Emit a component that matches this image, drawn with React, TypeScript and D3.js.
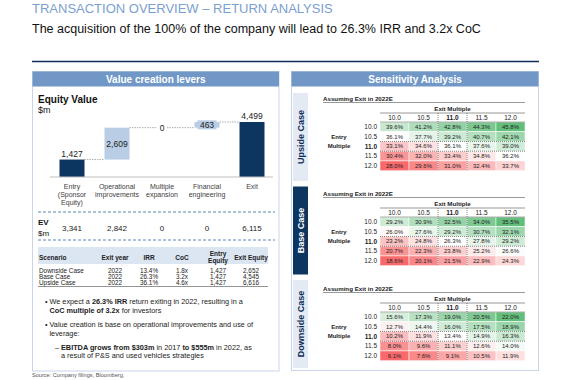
import React from "react";
import * as d3 from "d3";

const FONT = "'Liberation Sans', Arial, Helvetica, sans-serif";

// ---- Waterfall data ----
const leverKeys = ["entry", "ops", "multiple", "financial", "exit"];
const leverLabels = [["Entry", "(Sponsor", "Equity)"], ["Operational", "improvements"], ["Multiple", "expansion"], ["Financial", "engineering"], ["Exit"]];
const equityValues = [1427, 2609, 0, 463, 4499];
const isTotal = [true, false, false, false, true];
const evValues = [3341, 2842, 0, 0, 6115];

// ---- Scenario table ----
const scenarioNames = ["Downside Case", "Base Case", "Upside Case"];
const exitYears = ["2022", "2022", "2022"];
const irrs = ["13.4%", "26.3%", "36.1%"];
const cocs = ["1.8x", "3.2x", "4.6x"];
const entryEquity = [1427, 1427, 1427];
const exitEquity = [2652, 4545, 6616];

// ---- Sensitivity ----
const exitMultiples = ["10.0", "10.5", "11.0", "11.5", "12.0"];
const entryMultiples = ["10.0", "10.5", "11.0", "11.5", "12.0"];
const caseNames = ["Upside Case", "Base Case", "Downside Case"];
const upsideIrr = [
  [39.6, 41.2, 42.8, 44.3, 45.8],
  [36.1, 37.7, 39.2, 40.7, 42.1],
  [33.1, 34.6, 36.1, 37.6, 39.0],
  [30.4, 32.0, 33.4, 34.8, 36.2],
  [28.0, 29.6, 31.0, 32.4, 33.7],
];
const baseIrr = [
  [29.2, 30.9, 32.5, 34.0, 35.5],
  [26.0, 27.6, 29.2, 30.7, 32.1],
  [23.2, 24.8, 26.3, 27.8, 29.2],
  [20.7, 22.3, 23.8, 25.2, 26.6],
  [18.6, 20.1, 21.5, 22.9, 24.3],
];
const downsideIrr = [
  [15.6, 17.3, 19.0, 20.5, 22.0],
  [12.7, 14.4, 16.0, 17.5, 18.9],
  [10.2, 11.9, 13.4, 14.9, 16.3],
  [8.0, 9.6, 11.1, 12.6, 14.0],
  [6.1, 7.6, 9.1, 10.5, 11.9],
];
const caseData = [upsideIrr, baseIrr, downsideIrr];

const NAVY = "#0c365f";
const LIGHTBAR = "#b9cde5";
const HEADER = "#7097c6";
const BORDER = "#c8d5e8";
const fmt = d3.format(",");

function Waterfall() {
  const x = d3.scalePoint<string>().domain(leverKeys).range([72, 252]);
  const y = d3.scaleLinear().domain([0, 4499]).range([177, 122]);
  const bw = 25;
  let cum = 0;
  const bars = equityValues.map((v, i) => {
    let a: number, b: number;
    if (isTotal[i]) { a = 0; b = v; cum = v; } else { a = cum; b = cum + v; cum = b; }
    return { key: leverKeys[i], v, a, b, total: isTotal[i] };
  });
  return (
    <g>
      {bars.map((d, i) => {
        const cx = x(d.key)!;
        const top = y(d.b), bot = y(d.a);
        const els: any[] = [];
        if (i < bars.length - 1) {
          const nx = x(bars[i + 1].key)!;
          els.push(<line key="c" x1={cx + bw / 2} x2={nx - bw / 2} y1={top} y2={top} stroke="#9a9a9a" strokeWidth={0.8} strokeDasharray="1.5,1" />);
        }
        if (d.v === 0) {
          els.push(<line key="z" x1={cx - bw / 2} x2={cx + bw / 2} y1={top} y2={top} stroke="#9a9a9a" strokeWidth={0.8} strokeDasharray="1.5,1" />);
        } else {
          els.push(<rect key="r" x={cx - bw / 2} y={top} width={bw} height={bot - top} fill={d.total ? NAVY : LIGHTBAR} />);
        }
        const label = fmt(d.v);
        if (d.total) {
          els.push(<text key="t" x={cx} y={top - 3} textAnchor="middle" fontSize={8.5} fill="#222">{label}</text>);
        } else if (d.v === 0) {
          els.push(<rect key="bg" x={cx - 5} y={top - 4.5} width={10} height={9} fill="#fff" />);
          els.push(<text key="t" x={cx} y={top + 3} textAnchor="middle" fontSize={8.5} fill="#222">{label}</text>);
        } else if (bot - top > 12) {
          els.push(<text key="t" x={cx} y={(top + bot) / 2 + 3} textAnchor="middle" fontSize={8.5} fill="#222">{label}</text>);
        } else {
          const m = (top + bot) / 2;
          els.push(<rect key="bg" x={cx - 9.5} y={m - 4.5} width={19} height={9} fill={LIGHTBAR} />);
          els.push(<text key="t" x={cx} y={m + 3} textAnchor="middle" fontSize={8.5} fill="#222">{label}</text>);
        }
        return <g key={d.key}>{els}</g>;
      })}
      <line x1={50} x2={273} y1={177} y2={177} stroke="#bfbfbf" strokeWidth={1.2} />
      {leverLabels.map((lines, i) => (
        <text key={i} x={x(leverKeys[i])!} y={188.5} textAnchor="middle" fontSize={7} fill="#404040">
          {lines.map((l, j) => (
            <tspan key={j} x={x(leverKeys[i])!} dy={j === 0 ? 0 : 8.3}>{l}</tspan>
          ))}
        </text>
      ))}
      <line x1={38} x2={275} y1={212} y2={212} stroke="#5b86bd" strokeWidth={1} strokeDasharray="3,2" />
      <text x={38} y={225} fontSize={8} fontWeight="bold" fill="#111">EV</text>
      <text x={38} y={236} fontSize={8} fill="#111">$m</text>
      {evValues.map((v, i) => (
        <text key={i} x={x(leverKeys[i])!} y={231} textAnchor="middle" fontSize={8} fill="#222">{fmt(v)}</text>
      ))}
      <line x1={38} x2={275} y1={240} y2={240} stroke="#5b86bd" strokeWidth={1} strokeDasharray="3,2" />
    </g>
  );
}

function ScenarioTable() {
  const cols = [115, 149, 182, 218, 251];
  const rowY = d3.scalePoint<string>().domain(scenarioNames).range([273, 284.5]);
  const hs = 6.5;
  return (
    <g fontSize={6.4} fill="#222">
      <rect x={38} y={247} width={230} height={17} fill="#dce6f2" />
      <text x={39} y={259.5} fontSize={hs} fontWeight="bold">Scenario</text>
      <text x={cols[0]} y={259.5} fontSize={hs} fontWeight="bold" textAnchor="middle">Exit year</text>
      <text x={cols[1]} y={259.5} fontSize={hs} fontWeight="bold" textAnchor="middle">IRR</text>
      <text x={cols[2]} y={259.5} fontSize={hs} fontWeight="bold" textAnchor="middle">CoC</text>
      <text x={cols[3]} y={255.5} fontSize={hs} fontWeight="bold" textAnchor="middle">Entry</text>
      <text x={cols[3]} y={263} fontSize={hs} fontWeight="bold" textAnchor="middle">Equity</text>
      <text x={cols[4]} y={259.5} fontSize={hs} fontWeight="bold" textAnchor="middle">Exit Equity</text>
      {scenarioNames.map((s, i) => {
        const yy = rowY(s)!;
        return (
          <g key={s}>
            <text x={39} y={yy}>{s}</text>
            <text x={cols[0]} y={yy} textAnchor="middle">{exitYears[i]}</text>
            <text x={cols[1]} y={yy} textAnchor="middle">{irrs[i]}</text>
            <text x={cols[2]} y={yy} textAnchor="middle">{cocs[i]}</text>
            <text x={cols[3]} y={yy} textAnchor="middle">{fmt(entryEquity[i])}</text>
            <text x={cols[4]} y={yy} textAnchor="middle">{fmt(exitEquity[i])}</text>
          </g>
        );
      })}
      <line x1={38} x2={268} y1={286.5} y2={286.5} stroke="#666" strokeWidth={0.7} />
    </g>
  );
}

function Bullets() {
  const fs = 7.3;
  return (
    <g fontSize={fs} fill="#222">
      <text x={45} y={304}>•</text>
      <text x={49.5} y={304}>We expect a <tspan fontWeight="bold">26.3% IRR</tspan> return exiting in 2022, resulting in a</text>
      <text x={49.5} y={313}><tspan fontWeight="bold">CoC multiple of 3.2x</tspan> for investors</text>
      <text x={45} y={327}>•</text>
      <text x={49.5} y={327}>Value creation is base on operational improvements and use of</text>
      <text x={49.5} y={335.5}>leverage:</text>
      <text x={55} y={349.5}>–</text>
      <text x={61} y={349.5}><tspan fontWeight="bold">EBITDA grows from $303m</tspan> in 2017 <tspan fontWeight="bold">to $555m</tspan> in 2022, as</text>
      <text x={61} y={358}>a result of P&amp;S and used vehicles strategies</text>
    </g>
  );
}

function SensBlock({ data, dy }: { data: number[][]; dy: number }) {
  const xs = d3.scaleBand<string>().domain(exitMultiples).range([380, 525]);
  const ys = d3.scaleBand<string>().domain(entryMultiples).range([122 + dy, 170.7 + dy]);
  const flat = data.flat();
  const color = d3.scaleLinear<string>()
    .domain([d3.min(flat)!, d3.median(flat)!, d3.max(flat)!])
    .range(["#F8696B", "#FFFFFF", "#63BE7B"]);
  const bw = xs.bandwidth(), bh = ys.bandwidth();
  const hiCol = "11.0", hiRow = "11.0";
  return (
    <g fill="#222">
      <text x={323} y={100.5 + dy} fontSize={6.2} fontWeight="bold">Assuming Exit in 2022E</text>
      <line x1={323} x2={525} y1={102.5 + dy} y2={102.5 + dy} stroke="#8c8c8c" strokeWidth={0.9} />
      <text x={452.5} y={111 + dy} fontSize={6.2} fontWeight="bold" textAnchor="middle">Exit Multiple</text>
      <line x1={380} x2={525} y1={113 + dy} y2={113 + dy} stroke="#8c8c8c" strokeWidth={0.9} />
      {exitMultiples.map((m) => (
        <text key={m} x={xs(m)! + bw / 2} y={120.3 + dy} fontSize={6.5} textAnchor="middle" fontWeight={m === hiCol ? "bold" : "normal"}>{m}</text>
      ))}
      {data.map((row, r) =>
        row.map((v, c) => (
          <g key={`${r}-${c}`}>
            <rect x={xs(exitMultiples[c])!} y={ys(entryMultiples[r])!} width={bw} height={bh} fill={color(v)} stroke="#fff" strokeWidth={0.5} />
            <text x={xs(exitMultiples[c])! + bw / 2} y={ys(entryMultiples[r])! + bh / 2 + 2.1} fontSize={6} textAnchor="middle">{v.toFixed(1) + "%"}</text>
          </g>
        ))
      )}
      <line x1={380} x2={525} y1={122 + dy} y2={122 + dy} stroke="#8c8c8c" strokeWidth={0.7} />
      {entryMultiples.map((m) => (
        <text key={m} x={377} y={ys(m)! + bh / 2 + 2.3} fontSize={6.5} textAnchor="end" fontWeight={m === hiRow ? "bold" : "normal"}>{m}</text>
      ))}
      <text x={339} y={138.5 + dy} fontSize={6} fontWeight="bold" textAnchor="middle">Entry</text>
      <text x={339} y={148 + dy} fontSize={6} fontWeight="bold" textAnchor="middle">Multiple</text>
      {/* highlight dotted box */}
      <line x1={xs(hiCol)!} x2={xs(hiCol)!} y1={113 + dy} y2={170.7 + dy} stroke="#555" strokeWidth={0.7} strokeDasharray="1,1" />
      <line x1={xs(hiCol)! + bw} x2={xs(hiCol)! + bw} y1={113 + dy} y2={170.7 + dy} stroke="#555" strokeWidth={0.7} strokeDasharray="1,1" />
      <line x1={380} x2={525} y1={ys(hiRow)!} y2={ys(hiRow)!} stroke="#555" strokeWidth={0.7} strokeDasharray="1,1" />
      <line x1={380} x2={525} y1={ys(hiRow)! + bh} y2={ys(hiRow)! + bh} stroke="#555" strokeWidth={0.7} strokeDasharray="1,1" />
    </g>
  );
}

export default function App() {
  return (
    <div style={{ position: "absolute", left: 0, top: 0 }}>
      <svg width={570} height={380} style={{ display: "block", fontFamily: FONT, background: "#fff" }}>
        <text x={32} y={12.5} fontSize={13} fill="#7aa0d0">TRANSACTION OVERVIEW – RETURN ANALYSIS</text>
        <text x={32} y={33} fontSize={12.5} fill="#111">The acquisition of the 100% of the company will lead to 26.3% IRR and 3.2x CoC</text>
        <line x1={32} x2={539} y1={61.5} y2={61.5} stroke="#0c2d57" strokeWidth={1.5} />

        {/* Left panel */}
        <rect x={32.5} y={71.5} width={246.5} height={299.5} fill="none" stroke={BORDER} strokeWidth={1} />
        <rect x={32.5} y={71.5} width={246.5} height={15} fill={HEADER} />
        <text x={155.75} y={82.8} textAnchor="middle" fontSize={10} fontWeight="bold" fill="#fff">Value creation levers</text>
        <text x={38} y={102.5} fontSize={10} fontWeight="bold" fill="#111">Equity Value</text>
        <text x={38} y={113} fontSize={9} fill="#111">$m</text>
        <Waterfall />
        <ScenarioTable />
        <Bullets />

        {/* Right panel */}
        <rect x={291.5} y={71.5} width={247} height={299} fill="none" stroke={BORDER} strokeWidth={1} />
        <rect x={291.5} y={71.5} width={247} height={15} fill={HEADER} />
        <text x={415} y={82.8} textAnchor="middle" fontSize={10} fontWeight="bold" fill="#fff">Sensitivity Analysis</text>
        {caseNames.map((name, i) => {
          const top = 93 + i * 93.5;
          const h = 88;
          const dark = name === "Base Case";
          return (
            <g key={name}>
              <rect x={293} y={top} width={15} height={h} fill={dark ? NAVY : "#e3eaf4"} />
              <text transform={`translate(300.5,${top + h / 2}) rotate(-90)`} textAnchor="middle" dy={3.2} fontSize={9} fontWeight="bold" fill={dark ? "#fff" : "#0c2d57"}>{name}</text>
            </g>
          );
        })}
        {caseData.map((d, i) => (
          <SensBlock key={i} data={d} dy={i * 95} />
        ))}

        <text x={32} y={377} fontSize={5.6} fill="#555">Source: Company filings, Bloomberg.</text>
      </svg>
    </div>
  );
}
